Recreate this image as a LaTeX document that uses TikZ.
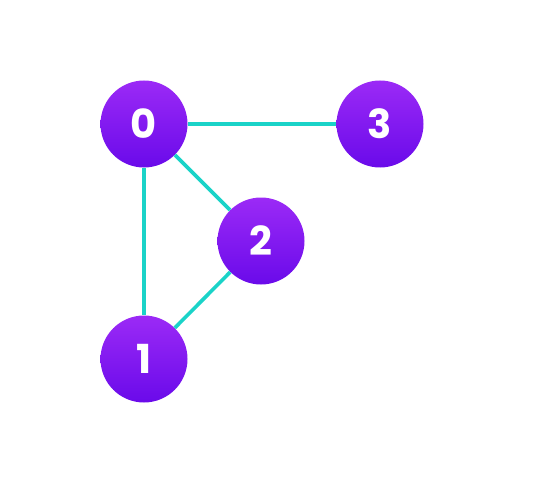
\documentclass[tikz,border=0pt]{standalone}
\usepackage{fontspec}
\setmainfont{Poppins}
\usetikzlibrary{positioning}
\definecolor{vertextop}{RGB}{155, 42, 246}
\definecolor{vertexbottom}{RGB}{106, 10, 234}
\definecolor{edgecyan}{RGB}{26, 211, 200}

\begin{document}
\begin{tikzpicture}[
    x=1pt, y=1pt,
    vertex/.style={circle, minimum size=87pt, inner sep=0pt,
                   top color=vertextop, bottom color=vertexbottom,
                   text=white, font=\fontsize{40}{40}\selectfont\bfseries},
    edge/.style={draw=edgecyan, line width=3.6pt}
]
    \useasboundingbox (0,0) rectangle (546,-484);
    \node[vertex] (v0) at (144,-124) {0};
    \node[vertex] (v3) at (380,-124) {3};
    \node[vertex] (v2) at (261,-241) {2};
    \node[vertex] (v1) at (144,-359) {1};
    \draw[edge] (v0) -- (v3);
    \draw[edge] (v0) -- (v2);
    \draw[edge] (v0) -- (v1);
    \draw[edge] (v2) -- (v1);
\end{tikzpicture}
\end{document}
